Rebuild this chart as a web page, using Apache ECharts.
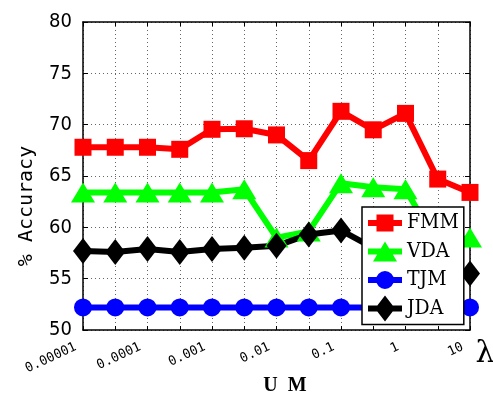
<!DOCTYPE html>
<html><head><meta charset="utf-8">
<script src="https://cdn.jsdelivr.net/npm/echarts@6/dist/echarts.min.js"></script>
<style>html,body{margin:0;padding:0;background:#fff}#c{width:493px;height:394px}</style>
</head><body><div id="c"></div>
<script>
const lambdas = ['0.00001','0.00003','0.0001','0.0003','0.001','0.003','0.01','0.03','0.1','0.3','1','3','10'];
const tickLabels = ['0.00001','','0.0001','','0.001','','0.01','','0.1','','1','','10'];
const fmm = [67.8,67.8,67.8,67.6,69.55,69.6,69.0,66.5,71.3,69.5,71.1,64.7,63.4];
const vda = [63.4,63.4,63.4,63.4,63.4,63.7,59.0,59.6,64.3,63.9,63.7,58.3,59.0];
const tjm = [52.2,52.2,52.2,52.2,52.2,52.2,52.2,52.2,52.2,52.2,52.2,52.2,52.2];
const jda = [57.7,57.6,57.9,57.6,57.9,58.0,58.2,59.3,59.7,58.0,57.5,56.8,55.5];
const seriesNames = ['FMM','VDA','TJM','JDA'];

// legend icons: thick line + marker, all in a 34x26 box
const LINE = 'M0 10H34V16H0Z M0 0L0 0Z M34 26L34 26Z ';
const legendIcons = {
  FMM: 'path://' + LINE + 'M8.5 4.5H25.5V21.5H8.5Z',
  VDA: 'path://' + LINE + 'M5 23L17 3L29 23Z',
  TJM: 'path://' + LINE + 'M8 13A9 9 0 1 1 26 13A9 9 0 1 1 8 13Z',
  JDA: 'path://' + LINE + 'M17 0L27 13L17 26L7 13Z'
};

const chart = echarts.init(document.getElementById('c'), null, {renderer:'canvas'});
const grid = {left:83, right:23, top:22, bottom:64};
const splitStyle = {show:true, lineStyle:{color:'#666', width:1, type:[1,3]}};
function mk(name, data, color, symbol, size){
  return {name, type:'line', data, symbol, symbolSize:size, showSymbol:true,
    lineStyle:{color, width:6}, itemStyle:{color, borderWidth:0}, animation:false, z:2};
}
chart.setOption({
  animation:false,
  grid,
  xAxis:[{
    type:'category', data:lambdas, boundaryGap:false,
    axisLine:{lineStyle:{color:'#000', width:1.5}},
    axisTick:{inside:true, length:4, lineStyle:{color:'#000'}, interval:0},
    axisLabel:{interval:0, rotate:25, margin:13, padding:[0,8,0,0], fontFamily:'DejaVu Sans Mono', fontSize:13, color:'#000',
      formatter:(v,i)=>tickLabels[i]},
    splitLine:splitStyle
  },{
    type:'category', data:lambdas, boundaryGap:false, position:'top',
    axisLine:{lineStyle:{color:'#000', width:1.5}},
    axisTick:{inside:true, length:4, lineStyle:{color:'#000'}, interval:0},
    axisLabel:{show:false}, splitLine:{show:false}
  }],
  yAxis:[{
    type:'value', min:50, max:80, interval:5,
    axisLine:{show:true, lineStyle:{color:'#000', width:1.5}},
    axisTick:{show:true, inside:true, length:5, lineStyle:{color:'#000'}},
    axisLabel:{fontFamily:'"DejaVu Sans Condensed", "DejaVu Sans"', fontSize:20, color:'#000', margin:11},
    splitLine:splitStyle
  },{
    type:'value', min:50, max:80, interval:5, position:'right',
    axisLine:{show:true, lineStyle:{color:'#000', width:1.5}},
    axisTick:{show:true, inside:true, length:5, lineStyle:{color:'#000'}},
    axisLabel:{show:false}, splitLine:{show:false}
  }],
  legend:{
    data:seriesNames.map(n=>({name:n, icon:legendIcons[n]})),
    orient:'vertical', left:362, top:207,
    backgroundColor:'#fff', borderColor:'#000', borderWidth:1.5, borderRadius:0,
    padding:[3,5,3,6], itemGap:2.5, itemWidth:34, itemHeight:26,
    textStyle:{fontFamily:'"DejaVu Serif Condensed", "Liberation Serif"', fontSize:21, color:'#000'},
    z:10
  },
  series:[
    mk('FMM', fmm, '#ff0000', 'rect', 17),
    mk('VDA', vda, '#00ff00', 'triangle', [24,20]),
    mk('TJM', tjm, '#0000ff', 'circle', 18),
    mk('JDA', jda, '#000000', 'diamond', [20,26])
  ],
  graphic:[
    {type:'text', x:27, y:206, rotation:Math.PI/2, style:{text:'% Accuracy', font:'20px "DejaVu Sans Mono"', fill:'#000', textAlign:'center', textVerticalAlign:'middle'}},
    {type:'text', x:285, y:386, style:{text:'U  M', font:'bold 20px "Liberation Serif"', fill:'#000', textAlign:'center', textVerticalAlign:'middle'}},
    {type:'text', x:485, y:354, style:{text:'λ', font:'30px "DejaVu Serif"', fill:'#000', textAlign:'center', textVerticalAlign:'middle'}}
  ]
});
</script></body></html>
